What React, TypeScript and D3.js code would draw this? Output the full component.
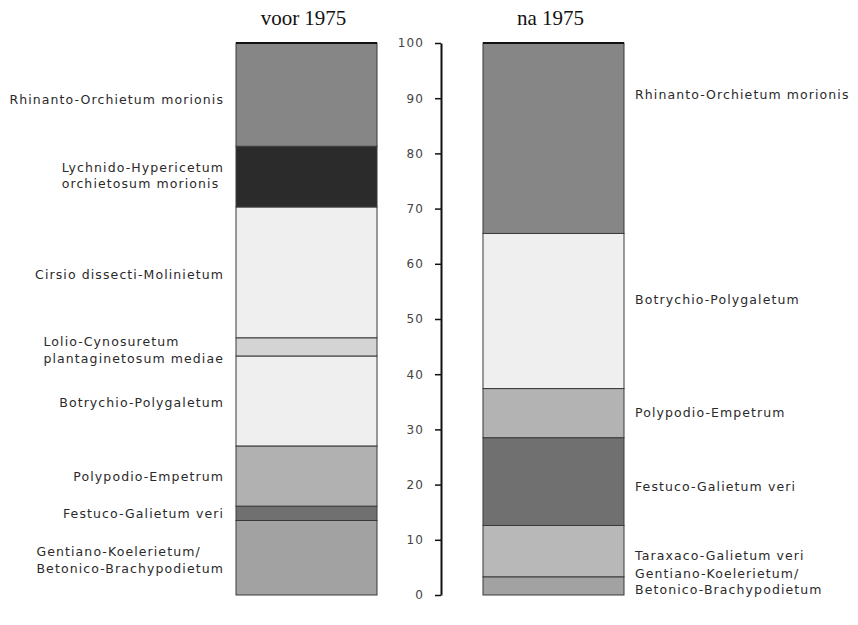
import React, { useEffect, useRef } from "react";
import * as d3 from "d3";

// Periods (columns)
const periods = ["voor 1975", "na 1975"];

// Segments listed from bottom to top
const beforeNames = [
  "Gentiano-Koelerietum/\nBetonico-Brachypodietum",
  "Festuco-Galietum veri",
  "Polypodio-Empetrum",
  "Botrychio-Polygaletum",
  "Lolio-Cynosuretum\nplantaginetosum mediae",
  "Cirsio dissecti-Molinietum",
  "Lychnido-Hypericetum\norchietosum morionis",
  "Rhinanto-Orchietum morionis",
];
const beforeValues = [13.5, 2.6, 10.9, 16.3, 3.3, 23.7, 11.0, 18.7];
const beforeColors = ["#a2a2a2", "#707070", "#b1b1b1", "#efefef", "#d4d4d4", "#efefef", "#2b2b2b", "#868686"];
const beforeLabelAt = [6.3, 14.7, 21.4, 34.8, 44.4, 58, 76, 89.7];

const afterNames = [
  "Gentiano-Koelerietum/\nBetonico-Brachypodietum",
  "Taraxaco-Galietum veri",
  "Festuco-Galietum veri",
  "Polypodio-Empetrum",
  "Botrychio-Polygaletum",
  "Rhinanto-Orchietum morionis",
];
const afterValues = [3.3, 9.3, 15.9, 8.9, 28.1, 34.5];
const afterColors = ["#a2a2a2", "#b8b8b8", "#707070", "#b3b3b3", "#efefef", "#868686"];
const afterLabelAt = [2.4, 7.1, 19.6, 33, 53.6, 90.6];

const yTicks = [0, 10, 20, 30, 40, 50, 60, 70, 80, 90, 100];

const W = 858;
const H = 625;
const FONT = "'DejaVu Sans', Verdana, sans-serif";

export default function App() {
  const ref = useRef<SVGSVGElement | null>(null);

  useEffect(() => {
    const svg = d3.select(ref.current);
    svg.selectAll("*").remove();

    const y = d3.scaleLinear().domain([0, 100]).range([595, 43]);
    const x = d3.scaleBand().domain(periods).range([236, 624]).paddingInner(0.4291).paddingOuter(0);
    const bw = x.bandwidth();

    const drawBar = (period: string, values: number[], colors: string[]) => {
      const cum = d3.cumsum(values);
      const starts = values.map((v, i) => cum[i] - v);
      const g = svg.append("g");
      g.selectAll("rect")
        .data(values)
        .join("rect")
        .attr("x", x(period)!)
        .attr("width", bw)
        .attr("y", (_d, i) => y(cum[i]))
        .attr("height", (_d, i) => y(starts[i]) - y(cum[i]))
        .attr("fill", (_d, i) => colors[i])
        .attr("stroke", "#3a3a3a")
        .attr("stroke-width", 1);
      // top edge
      g.append("line")
        .attr("x1", x(period)!)
        .attr("x2", x(period)! + bw)
        .attr("y1", y(100))
        .attr("y2", y(100))
        .attr("stroke", "#111")
        .attr("stroke-width", 2);
    };
    drawBar(periods[0], beforeValues, beforeColors);
    drawBar(periods[1], afterValues, afterColors);

    // Titles
    svg
      .selectAll("text.title")
      .data(periods)
      .join("text")
      .attr("class", "title")
      .attr("x", (d) => x(d)! + bw / 2 - 3)
      .attr("y", 25)
      .attr("text-anchor", "middle")
      .attr("font-family", "'Liberation Serif', 'Times New Roman', serif")
      .attr("font-size", 21)
      .attr("fill", "#111")
      .text((d) => d);

    // Axis
    const axis = d3.axisLeft(y).tickValues(yTicks).tickSize(6).tickSizeOuter(0).tickPadding(11);
    const ag = svg.append("g").attr("transform", "translate(441,0)").call(axis);
    ag.select(".domain").attr("stroke", "#111").attr("stroke-width", 2);
    ag.selectAll(".tick line").attr("stroke", "#111").attr("stroke-width", 1.5);
    ag.selectAll(".tick text")
      .attr("font-family", FONT)
      .attr("font-size", 12)
      .attr("letter-spacing", 1.1)
      .attr("fill", "#444");

    const lineH = 16.5;
    const drawLabels = (names: string[], at: number[], side: "left" | "right") => {
      names.forEach((name, i) => {
        const lines = name.split("\n");
        const t = svg
          .append("text")
          .attr("font-family", FONT)
          .attr("font-size", 12.5)
          .attr("letter-spacing", 1.1)
          .attr("fill", "#2a2a2a");
        const cy = y(at[i]);
        const top = cy - ((lines.length - 1) * lineH) / 2;
        lines.forEach((ln, k) => {
          t.append("tspan")
            .attr("x", 0)
            .attr("y", top + k * lineH)
            .attr("dy", "0.35em")
            .text(ln);
        });
        const node = t.node() as SVGTextElement;
        const w = node.getBBox().width;
        const tx = side === "left" ? 224 - w : 635;
        t.attr("transform", `translate(${tx},0)`);
      });
    };
    drawLabels(beforeNames, beforeLabelAt, "left");
    drawLabels(afterNames, afterLabelAt, "right");
  }, []);

  return (
    <svg
      ref={ref}
      width={W}
      height={H}
      style={{ position: "absolute", left: 0, top: 0, background: "#fff" }}
    />
  );
}
